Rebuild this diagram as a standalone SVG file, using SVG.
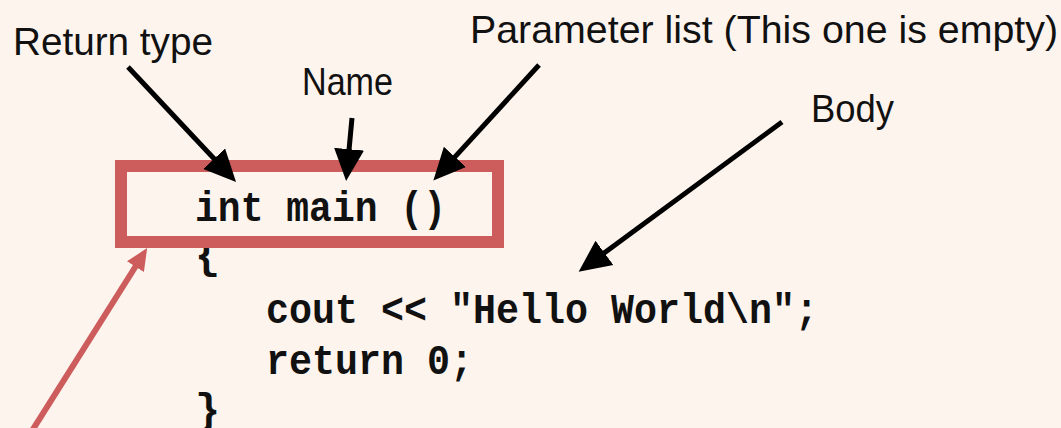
<svg xmlns="http://www.w3.org/2000/svg" width="1061" height="428" viewBox="0 0 1061 428">
  <style>
    .label { font-family: "Liberation Sans", Arial, sans-serif; font-size: 39px; fill: #111; }
    .code { font-family: "Liberation Mono", "Courier New", monospace; font-size: 42px; font-weight: bold; fill: #111; }
    .blk { stroke: #000; stroke-width: 5; fill: none; stroke-linecap: butt; }
    .red { stroke: #cd5c5c; stroke-width: 6; fill: none; }
  </style>
  <defs>
    <marker id="headB" markerUnits="userSpaceOnUse" markerWidth="34" markerHeight="34" viewBox="0 -16 34 32" refX="2" refY="0" orient="auto">
      <path d="M0,-15 L32,0 L0,15 Z" fill="#000"/>
    </marker>
    <marker id="headR" markerUnits="userSpaceOnUse" markerWidth="24" markerHeight="24" viewBox="0 -11 24 22" refX="2" refY="0" orient="auto">
      <path d="M0,-10 L22,0 L0,10 Z" fill="#cd5c5c"/>
    </marker>
  </defs>
  <rect width="1061" height="428" fill="#fdf4ee"/>

  <g id="code">
    <text class="code" x="195" y="221" textLength="251" lengthAdjust="spacingAndGlyphs">int main ()</text>
    <text class="code" x="195" y="268">{</text>
    <text class="code" x="266" y="323" textLength="552" lengthAdjust="spacingAndGlyphs">cout &lt;&lt; "Hello World\n";</text>
    <text class="code" x="266" y="374" textLength="207" lengthAdjust="spacingAndGlyphs">return 0;</text>
    <text class="code" x="195" y="423">}</text>
  </g>

  <g id="header-box">
    <rect x="121" y="166" width="377" height="76" fill="none" stroke="#cd5c5c" stroke-width="12"/>
  </g>

  <g id="label-return-type">
    <text class="label" x="13" y="55" textLength="200" lengthAdjust="spacingAndGlyphs">Return type</text>
  </g>
  <g id="label-name">
    <text class="label" x="302" y="95" textLength="91" lengthAdjust="spacingAndGlyphs">Name</text>
  </g>
  <g id="label-parameter-list">
    <text class="label" x="470" y="43" textLength="588" lengthAdjust="spacingAndGlyphs">Parameter list (This one is empty)</text>
  </g>
  <g id="label-body">
    <text class="label" x="811" y="122" textLength="83" lengthAdjust="spacingAndGlyphs">Body</text>
  </g>

  <g id="connectors">
    <line class="blk" x1="128" y1="67" x2="215.5" y2="160.2" marker-end="url(#headB)"/>
    <line class="blk" x1="352" y1="118" x2="348.9" y2="151.2" marker-end="url(#headB)"/>
    <line class="blk" x1="539" y1="65" x2="453.6" y2="158.4" marker-end="url(#headB)"/>
    <line class="blk" x1="782" y1="122" x2="602.8" y2="254.0" marker-end="url(#headB)"/>
    <line class="red" x1="30" y1="434" x2="136.5" y2="265" marker-end="url(#headR)"/>
  </g>
</svg>
